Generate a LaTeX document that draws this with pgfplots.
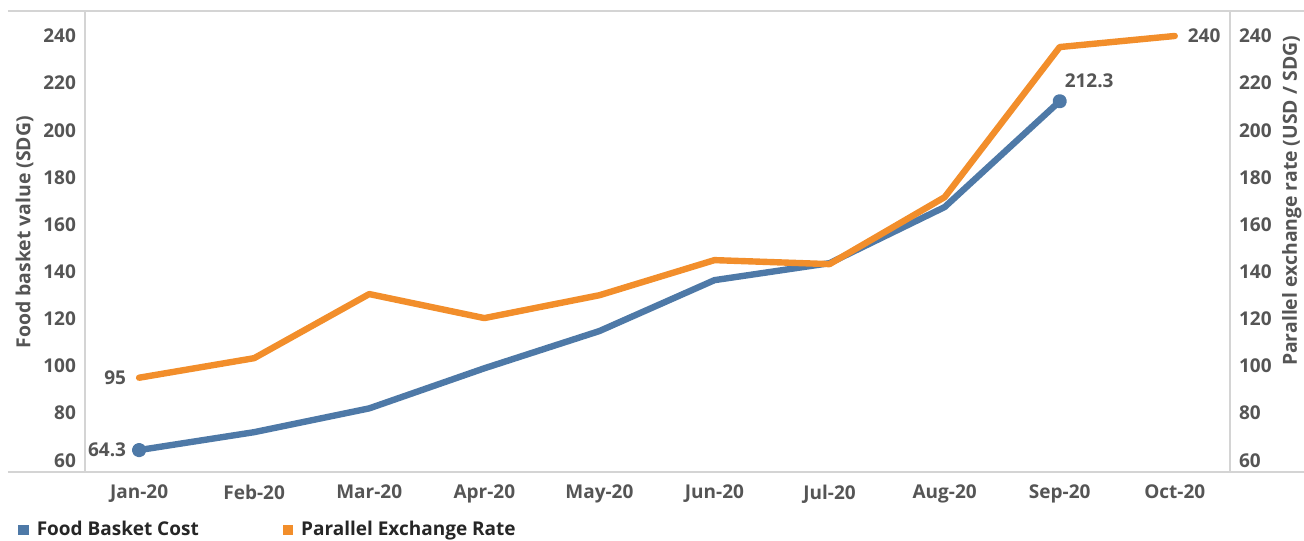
\documentclass[border=0pt]{standalone}
\usepackage{pgfplots}
\pgfplotsset{compat=1.18}
\usepackage{fontspec}
\setmainfont{Open Sans}
\definecolor{fbblue}{HTML}{4E79A7}
\definecolor{perorange}{HTML}{F28E2B}
\definecolor{txtgray}{HTML}{555555}
\definecolor{axgray}{HTML}{D4D4D4}

\begin{document}
\begin{tikzpicture}
\pgfplotsset{
  base/.style={
    width=572.5pt, height=230.5pt, scale only axis,
    xmin=-0.47, xmax=9.48, ymin=55, ymax=250.6,
    ytick={60,80,...,240},
    axis line style={draw=none},
    tick style={draw=none},
    ticklabel style={font=\bfseries\fontsize{9.5}{11}\selectfont, text=txtgray},
    label style={font=\bfseries\fontsize{9.7}{11}\selectfont, text=txtgray},
    /pgf/number format/assume math mode=true,
  }
}
\begin{axis}[base,
  xtick={0,...,9},
  xticklabels={Jan-20,Feb-20,Mar-20,Apr-20,May-20,Jun-20,Jul-20,Aug-20,Sep-20,Oct-20},
  xticklabel style={yshift=-3pt},
  yticklabel style={xshift=-1pt},
  ylabel={Food basket value (SDG)},
  ylabel style={at={(axis description cs:-0.0528,0.52)}, anchor=center},
  clip=false,
  legend columns=2,
  legend image code/.code={\fill[#1, draw=none] (0pt,-2.6pt) rectangle (5.2pt,2.6pt);},
  legend style={at={(axis description cs:0,0)}, xshift=-33.5pt, yshift=-29pt, anchor=west,
    draw=none, fill=none, inner sep=0pt,
    font=\bfseries\fontsize{9.5}{11}\selectfont, text=black!85,
    /tikz/every odd column/.append style={column sep=2pt},
    /tikz/every even column/.append style={column sep=40pt}},
]
\addplot[color=fbblue, line width=3.2pt, line cap=round, line join=round,
  mark=*, mark size=2pt, mark indices={1,9}] coordinates {
  (0,64.3) (1,71.9) (2,82.0) (3,99.0) (4,114.8) (5,136.4) (6,143.6) (7,167.4) (8,212.3)
};
\addlegendentry{Food Basket Cost}
\addplot[color=perorange, line width=3.2pt, line cap=round, line join=round] coordinates {
  (0,95) (1,103.3) (2,130.5) (3,120.3) (4,130.0) (5,144.9) (6,143.2) (7,171.6) (8,235.3) (9,240)
};
\addlegendentry{Parallel Exchange Rate}
\node[anchor=east, font=\bfseries\fontsize{9.5}{11}\selectfont, text=txtgray, xshift=-3pt] at (axis cs:0,64.3) {64.3};
\node[anchor=east, font=\bfseries\fontsize{9.5}{11}\selectfont, text=txtgray, xshift=-3pt] at (axis cs:0,95) {95};
\node[anchor=south west, font=\bfseries\fontsize{9.5}{11}\selectfont, text=txtgray, xshift=-1pt, yshift=3pt] at (axis cs:8,212.3) {212.3};
\node[anchor=west, font=\bfseries\fontsize{9.5}{11}\selectfont, text=txtgray, xshift=3pt] at (axis cs:9,240) {240};
\end{axis}
\begin{axis}[base,
  axis y line*=right, axis x line=none,
  yticklabel style={xshift=1pt},
  ylabel={Parallel exchange rate (USD / SDG)},
  ylabel style={at={(axis description cs:1.054,0.588)}, anchor=center},
]
\end{axis}
\draw[axgray, line width=0.6pt] (-38.5pt,0pt) -- (609.5pt,0pt);
\draw[axgray, line width=0.6pt] (-38.5pt,230.5pt) -- (609.5pt,230.5pt);
\draw[axgray, line width=0.6pt] (0pt,0pt) -- (0pt,230.5pt);
\draw[axgray, line width=0.6pt] (572.5pt,0pt) -- (572.5pt,230.5pt);
\pgfresetboundingbox
\path[use as bounding box] (-42.5pt,-34pt) rectangle (609.5pt,236pt);
\end{tikzpicture}
\end{document}
